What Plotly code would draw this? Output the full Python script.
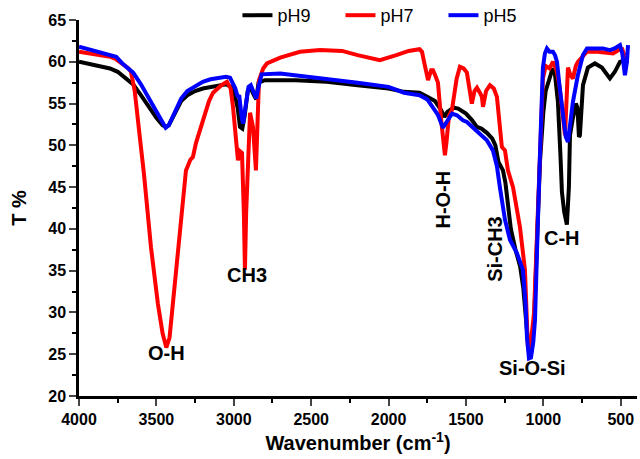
import plotly.graph_objects as go

# FTIR spectra (wavenumber cm-1, transmittance %)
wn_ph9 = [4000, 3900, 3800, 3750, 3700, 3650, 3600, 3550, 3500, 3460, 3440, 3420, 3380, 3340,
          3300, 3250, 3200, 3150, 3100, 3050, 3020, 3000, 2975, 2960, 2945, 2930, 2910, 2895,
          2870, 2855, 2840, 2800, 2600, 2400, 2200, 2000, 1900, 1800, 1750, 1700, 1660, 1640,
          1620, 1580, 1550, 1500, 1460, 1430, 1400, 1365, 1330, 1310, 1290, 1261, 1245, 1235,
          1210, 1180, 1150, 1130, 1110, 1095, 1085, 1075, 1060, 1045, 1030, 1022, 1000, 985,
          960, 940, 925, 906, 890, 880, 865, 848, 835, 828, 809, 790, 780, 770, 764, 755,
          744, 712, 667, 622, 570, 538, 505, 473, 455]
t_ph9 = [60.0, 59.6, 59.2, 58.8, 58.0, 57.3, 56.0, 54.6, 53.3, 52.4, 52.2, 52.4, 53.8, 55.3,
         56.0, 56.5, 56.8, 57.0, 57.2, 57.3, 57.0, 56.5, 54.5, 52.2, 52.0, 53.5, 56.5, 57.0,
         56.0, 55.5, 57.5, 57.8, 57.8, 57.6, 57.2, 56.8, 56.4, 56.3, 55.8, 55.3, 54.2, 53.4,
         54.0, 54.5, 54.4, 53.8, 53.0, 52.2, 52.0, 51.5, 50.8, 50.0, 48.0, 47.0, 45.5, 43.8,
         40.0, 37.5, 35.5, 33.0, 28.0, 25.5, 24.8, 25.5, 29.0, 37.0, 45.0, 48.0, 54.0, 56.5,
         58.0, 59.2, 58.5, 55.2, 49.0, 44.4, 42.0, 40.5, 45.0, 51.2, 53.3, 55.0, 54.5, 51.0,
         51.2, 55.0, 57.2, 59.3, 59.8, 59.3, 58.0, 58.8, 60.0, 60.2, 59.8]

wn_ph7 = [4000, 3900, 3800, 3760, 3720, 3680, 3664, 3640, 3612, 3580, 3535, 3490, 3460, 3436,
          3415, 3390, 3354, 3330, 3309, 3280, 3264, 3244, 3218, 3180, 3160, 3134, 3080, 3044,
          3020, 3005, 2985, 2973, 2960, 2947, 2935, 2928, 2920, 2905, 2895, 2876, 2865, 2857,
          2848, 2837, 2810, 2786, 2700, 2572, 2443, 2300, 2200, 2056, 1950, 1870, 1800, 1784,
          1765, 1745, 1725, 1713, 1695, 1681, 1660, 1645, 1636, 1625, 1610, 1591, 1560, 1539,
          1515, 1494, 1475, 1462, 1445, 1429, 1410, 1397, 1390, 1370, 1345, 1320, 1300, 1280,
          1268, 1248, 1229, 1196, 1151, 1119, 1100, 1090, 1080, 1060, 1041, 1022, 1003, 985,
          960, 938, 915, 895, 878, 860, 841, 825, 809, 790, 777, 718, 650, 550, 505, 490,
          473, 455]
t_ph7 = [61.2, 60.9, 60.6, 60.3, 59.8, 59.2, 58.8, 56.5, 51.8, 46.5, 37.8, 31.0, 27.5, 25.8,
         27.0, 31.5, 37.8, 42.5, 47.0, 48.3, 48.6, 50.3, 51.8, 54.2, 55.3, 56.3, 57.2, 57.6,
         56.8, 54.6, 50.5, 48.2, 49.3, 49.1, 42.0, 35.1, 42.0, 50.5, 53.9, 52.2, 49.0, 47.0,
         52.0, 57.8, 59.2, 59.8, 60.5, 61.2, 61.4, 61.3, 60.8, 60.2, 60.8, 61.3, 61.5, 61.2,
         59.5, 57.8, 59.0, 59.0, 58.2, 57.5, 53.0, 49.5, 48.8, 50.5, 53.5, 54.2, 58.0, 59.4,
         59.2, 58.7, 56.5, 55.0, 56.5, 56.9, 56.3, 55.8, 54.6, 56.5, 57.2, 56.8, 55.8, 52.0,
         49.8, 49.4, 47.0, 45.0, 40.2, 35.1, 25.9, 25.4, 26.5, 30.0, 40.0, 50.0, 58.0, 59.5,
         59.2, 60.0, 59.0, 57.0, 54.5, 51.2, 59.3, 58.4, 58.0, 59.5, 60.0, 61.2, 61.2, 61.0,
         61.5, 61.5, 60.5, 61.0]

wn_ph5 = [4000, 3900, 3800, 3760, 3720, 3680, 3650, 3600, 3550, 3500, 3460, 3440, 3420, 3380,
          3340, 3300, 3250, 3200, 3150, 3100, 3050, 3024, 2990, 2975, 2965, 2950, 2940, 2925,
          2905, 2890, 2870, 2855, 2840, 2820, 2700, 2600, 2443, 2200, 2000, 1900, 1800, 1750,
          1713, 1680, 1649, 1620, 1590, 1558, 1520, 1494, 1460, 1429, 1400, 1365, 1326, 1300,
          1281, 1248, 1216, 1171, 1132, 1115, 1106, 1093, 1080, 1065, 1054, 1041, 1035, 1020,
          1009, 1003, 990, 977, 960, 938, 925, 912, 895, 873, 855, 841, 825, 809, 777, 744,
          718, 650, 615, 570, 540, 505, 490, 473, 460, 453]
t_ph5 = [61.8, 61.3, 60.9, 60.6, 59.8, 59.1, 58.7, 57.3, 55.6, 54.0, 52.6, 52.1, 52.4, 54.0,
         55.6, 56.5, 57.1, 57.6, 57.9, 58.1, 58.2, 58.1, 56.8, 55.8, 56.0, 53.5, 52.6, 54.5,
         57.0, 57.2, 56.2, 55.6, 57.0, 58.5, 58.6, 58.4, 58.1, 57.5, 57.0, 56.3, 56.0, 55.5,
         54.5, 53.6, 52.1, 53.0, 53.8, 53.6, 53.0, 52.8, 52.2, 51.6, 51.2, 50.6, 49.4, 47.5,
         45.0, 41.1, 38.7, 37.1, 35.1, 31.0, 27.1, 24.5, 24.6, 26.5, 29.1, 39.3, 41.1, 50.0,
         55.0, 59.3, 61.0, 61.6, 61.2, 61.2, 60.8, 60.0, 57.0, 53.3, 51.0, 50.4, 53.0, 55.2,
         58.4, 60.8, 61.6, 61.6, 61.6, 61.4, 61.6, 62.0, 61.0, 58.4, 60.0, 62.0]

# band labels: (text, wavenumber, T, angle)
band_labels = [("O-H", 3432, 25.2, 0), ("CH3", 2915, 34.5, 0), ("H-O-H", 1649, 43.5, -90),
               ("Si-CH3", 1313, 37.6, -90), ("C-H", 880, 38.9, 0), ("Si-O-Si", 1067, 23.4, 0)]

font_name = "Liberation Sans, Arial, sans-serif"

fig = go.Figure()
for name, wn, t, color in [("pH9", wn_ph9, t_ph9, "black"),
                           ("pH7", wn_ph7, t_ph7, "#ff0000"),
                           ("pH5", wn_ph5, t_ph5, "#0000ff")]:
    fig.add_trace(go.Scatter(x=wn, y=t, name=name, mode="lines",
                             line=dict(color=color, width=4)))

for text, x, y, angle in band_labels:
    fig.add_annotation(x=x, y=y, text="<b>%s</b>" % text, showarrow=False, textangle=angle,
                       font=dict(family=font_name, size=20, color="black"))

fig.update_xaxes(
    range=[4000, 395],
    dtick=500,
    tick0=0,
    ticks="outside",
    ticklen=7,
    tickwidth=2,
    showline=True,
    linecolor="black",
    linewidth=2.5,
    showgrid=False,
    zeroline=False,
    automargin=False,
    minor=dict(dtick=250, tick0=0, ticks="outside", ticklen=4, tickwidth=2, tickcolor="black"),
    tickfont=dict(family=font_name, size=16, color="black", weight="bold"),
    title=dict(text="<b>Wavenumber (cm<sup>-1</sup>)</b>", standoff=10,
               font=dict(family=font_name, size=20, color="black")),
)

fig.update_yaxes(
    range=[20, 65],
    dtick=5,
    ticks="outside",
    ticklen=7,
    tickwidth=2,
    showline=True,
    linecolor="black",
    linewidth=2.5,
    showgrid=False,
    zeroline=False,
    automargin=False,
    minor=dict(dtick=2.5, ticks="outside", ticklen=4, tickwidth=2, tickcolor="black"),
    tickfont=dict(family=font_name, size=16, color="black", weight="bold"),
    title=dict(text="<b>T %</b>", standoff=17,
               font=dict(family=font_name, size=20, color="black")),
)

fig.update_layout(
    width=640,
    height=459,
    margin=dict(l=79, r=3, t=20, b=63, autoexpand=False),
    plot_bgcolor="white",
    paper_bgcolor="white",
    legend=dict(orientation="h", x=0.284, xanchor="left", y=1.012, yanchor="middle",
                font=dict(family=font_name, size=18, color="black"),
                bgcolor="rgba(0,0,0,0)", entrywidth=58, itemwidth=30),
)

# page body has a default 8px margin; drop it so the figure fills the window
fig.write_html("out.html", config={"displayModeBar": False},
               post_script="document.body.style.margin='0';")
